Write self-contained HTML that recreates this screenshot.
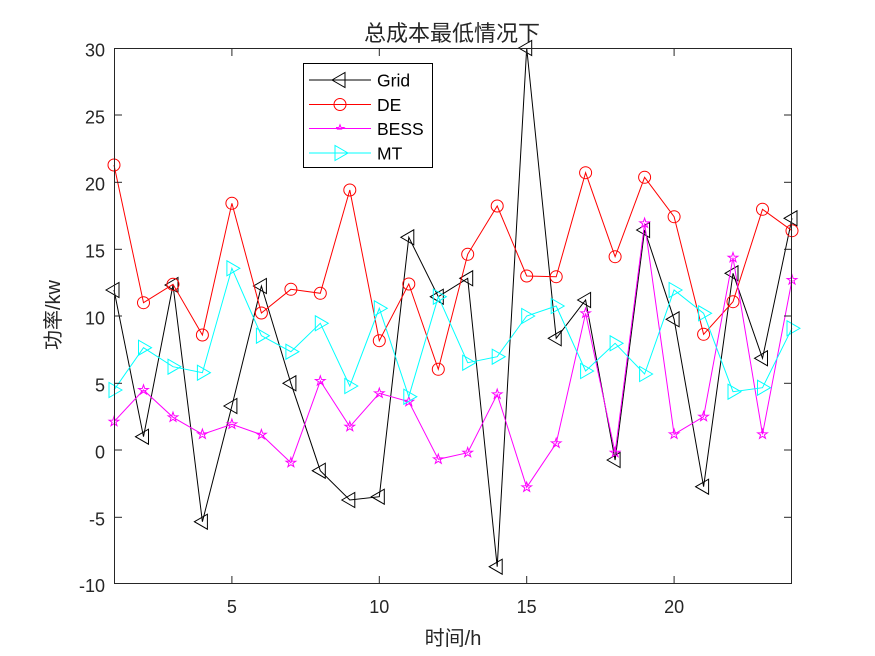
<!DOCTYPE html>
<html>
<head>
<meta charset="utf-8">
<style>
  html, body { margin: 0; padding: 0; background: #ffffff; }
  svg { display: block; }
  .tk { font-family: "Liberation Sans", Arial, sans-serif; font-size: 18px; fill: #262626; }
  .lg { font-family: "Liberation Sans", Arial, sans-serif; font-size: 17.5px; fill: #000; }
  .cj { font-family: "Liberation Sans", "Noto Sans CJK SC", sans-serif; fill: #262626; }
</style>
</head>
<body>
<svg width="875" height="656" viewBox="0 0 875 656" xmlns="http://www.w3.org/2000/svg">
  <defs>
    <polygon id="tl" points="-8,0 5,-7.5 5,7.5" fill="none" stroke="#000" stroke-width="1"/>
    <polygon id="tr" points="8,0 -5,-7.5 -5,7.5" fill="none" stroke="#00ffff" stroke-width="1"/>
    <circle id="ci" cx="0" cy="0" r="6" fill="none" stroke="#ff0000" stroke-width="1"/>
    <polygon id="st" points="0,-5.2 1.2,-1.6 4.9,-1.5 1.9,0.6 3,4 0,2 -3,4 -1.9,0.6 -4.9,-1.5 -1.2,-1.6" fill="none" stroke="#ff00ff" stroke-width="1"/>
  </defs>

  <rect x="0" y="0" width="875" height="656" fill="#ffffff"/>

  <!-- Grid (black) -->
  <polyline fill="none" stroke="#000" stroke-width="1" points="114.0,290 143.5,436.7 173.0,285 202.4,521.7 231.9,406 261.4,286 290.9,383.3 320.3,470.7 349.8,500 379.3,496.7 408.8,237.3 438.3,296.7 467.7,278.3 497.2,566.7 526.7,48 556.2,338.3 585.6,300 615.1,460 644.6,230 674.1,319.3 703.6,486.7 733.0,273.3 762.5,358.3 792.0,218.3"/>
  <g>
    <use href="#tl" x="114.0" y="290"/><use href="#tl" x="143.5" y="436.7"/><use href="#tl" x="173.0" y="285"/><use href="#tl" x="202.4" y="521.7"/><use href="#tl" x="231.9" y="406"/><use href="#tl" x="261.4" y="286"/><use href="#tl" x="290.9" y="383.3"/><use href="#tl" x="320.3" y="470.7"/><use href="#tl" x="349.8" y="500"/><use href="#tl" x="379.3" y="496.7"/><use href="#tl" x="408.8" y="237.3"/><use href="#tl" x="438.3" y="296.7"/><use href="#tl" x="467.7" y="278.3"/><use href="#tl" x="497.2" y="566.7"/><use href="#tl" x="526.7" y="48"/><use href="#tl" x="556.2" y="338.3"/><use href="#tl" x="585.6" y="300"/><use href="#tl" x="615.1" y="460"/><use href="#tl" x="644.6" y="230"/><use href="#tl" x="674.1" y="319.3"/><use href="#tl" x="703.6" y="486.7"/><use href="#tl" x="733.0" y="273.3"/><use href="#tl" x="762.5" y="358.3"/><use href="#tl" x="792.0" y="218.3"/>
  </g>

  <!-- DE (red) -->
  <polyline fill="none" stroke="#ff0000" stroke-width="1" points="114.0,165 143.5,302.7 173.0,284.3 202.4,335 231.9,203.3 261.4,313 290.9,289.3 320.3,293.3 349.8,190 379.3,340.7 408.8,284 438.3,369.3 467.7,254.3 497.2,206 526.7,276 556.2,276.7 585.6,172.7 615.1,256.7 644.6,177.3 674.1,216.7 703.6,334.3 733.0,301.7 762.5,209.3 792.0,230.7"/>
  <g>
    <use href="#ci" x="114.0" y="165"/><use href="#ci" x="143.5" y="302.7"/><use href="#ci" x="173.0" y="284.3"/><use href="#ci" x="202.4" y="335"/><use href="#ci" x="231.9" y="203.3"/><use href="#ci" x="261.4" y="313"/><use href="#ci" x="290.9" y="289.3"/><use href="#ci" x="320.3" y="293.3"/><use href="#ci" x="349.8" y="190"/><use href="#ci" x="379.3" y="340.7"/><use href="#ci" x="408.8" y="284"/><use href="#ci" x="438.3" y="369.3"/><use href="#ci" x="467.7" y="254.3"/><use href="#ci" x="497.2" y="206"/><use href="#ci" x="526.7" y="276"/><use href="#ci" x="556.2" y="276.7"/><use href="#ci" x="585.6" y="172.7"/><use href="#ci" x="615.1" y="256.7"/><use href="#ci" x="644.6" y="177.3"/><use href="#ci" x="674.1" y="216.7"/><use href="#ci" x="703.6" y="334.3"/><use href="#ci" x="733.0" y="301.7"/><use href="#ci" x="762.5" y="209.3"/><use href="#ci" x="792.0" y="230.7"/>
  </g>

  <!-- BESS (magenta) -->
  <polyline fill="none" stroke="#ff00ff" stroke-width="1" points="114.0,421.7 143.5,390 173.0,417.3 202.4,434.3 231.9,424.3 261.4,434.7 290.9,462.7 320.3,381 349.8,426.7 379.3,393.3 408.8,401.7 438.3,459.3 467.7,452.7 497.2,394.3 526.7,487.3 556.2,443.3 585.6,313.3 615.1,452.7 644.6,223.3 674.1,434.3 703.6,416.7 733.0,257.7 762.5,434.3 792.0,280"/>
  <g>
    <use href="#st" x="114.0" y="421.7"/><use href="#st" x="143.5" y="390"/><use href="#st" x="173.0" y="417.3"/><use href="#st" x="202.4" y="434.3"/><use href="#st" x="231.9" y="424.3"/><use href="#st" x="261.4" y="434.7"/><use href="#st" x="290.9" y="462.7"/><use href="#st" x="320.3" y="381"/><use href="#st" x="349.8" y="426.7"/><use href="#st" x="379.3" y="393.3"/><use href="#st" x="408.8" y="401.7"/><use href="#st" x="438.3" y="459.3"/><use href="#st" x="467.7" y="452.7"/><use href="#st" x="497.2" y="394.3"/><use href="#st" x="526.7" y="487.3"/><use href="#st" x="556.2" y="443.3"/><use href="#st" x="585.6" y="313.3"/><use href="#st" x="615.1" y="452.7"/><use href="#st" x="644.6" y="223.3"/><use href="#st" x="674.1" y="434.3"/><use href="#st" x="703.6" y="416.7"/><use href="#st" x="733.0" y="257.7"/><use href="#st" x="762.5" y="434.3"/><use href="#st" x="792.0" y="280"/>
  </g>

  <!-- MT (cyan) -->
  <polyline fill="none" stroke="#00ffff" stroke-width="1" points="114.0,390 143.5,347.7 173.0,366.7 202.4,372.7 231.9,268.3 261.4,335.7 290.9,351.7 320.3,323.3 349.8,386 379.3,308.3 408.8,396.7 438.3,296.7 467.7,362.7 497.2,356.7 526.7,316 556.2,306 585.6,371 615.1,343.3 644.6,374 674.1,290 703.6,313.3 733.0,391.7 762.5,387.7 792.0,328.3"/>
  <g>
    <use href="#tr" x="114.0" y="390"/><use href="#tr" x="143.5" y="347.7"/><use href="#tr" x="173.0" y="366.7"/><use href="#tr" x="202.4" y="372.7"/><use href="#tr" x="231.9" y="268.3"/><use href="#tr" x="261.4" y="335.7"/><use href="#tr" x="290.9" y="351.7"/><use href="#tr" x="320.3" y="323.3"/><use href="#tr" x="349.8" y="386"/><use href="#tr" x="379.3" y="308.3"/><use href="#tr" x="408.8" y="396.7"/><use href="#tr" x="438.3" y="296.7"/><use href="#tr" x="467.7" y="362.7"/><use href="#tr" x="497.2" y="356.7"/><use href="#tr" x="526.7" y="316"/><use href="#tr" x="556.2" y="306"/><use href="#tr" x="585.6" y="371"/><use href="#tr" x="615.1" y="343.3"/><use href="#tr" x="644.6" y="374"/><use href="#tr" x="674.1" y="290"/><use href="#tr" x="703.6" y="313.3"/><use href="#tr" x="733.0" y="391.7"/><use href="#tr" x="762.5" y="387.7"/><use href="#tr" x="792.0" y="328.3"/>
  </g>

  <!-- Axes box -->
  <rect x="114.5" y="48.5" width="677" height="535" fill="none" stroke="#262626" stroke-width="1"/>

  <!-- X ticks (bottom & top) -->
  <g stroke="#262626" stroke-width="1">
    <line x1="231.9" y1="583" x2="231.9" y2="576"/>
    <line x1="379.3" y1="583" x2="379.3" y2="576"/>
    <line x1="526.7" y1="583" x2="526.7" y2="576"/>
    <line x1="674.1" y1="583" x2="674.1" y2="576"/>
    <line x1="231.9" y1="49" x2="231.9" y2="56"/>
    <line x1="379.3" y1="49" x2="379.3" y2="56"/>
    <line x1="526.7" y1="49" x2="526.7" y2="56"/>
    <line x1="674.1" y1="49" x2="674.1" y2="56"/>
  </g>
  <!-- Y ticks (left & right) -->
  <g stroke="#262626" stroke-width="1">
    <line x1="115" y1="115" x2="122" y2="115"/>
    <line x1="115" y1="182.3" x2="122" y2="182.3"/>
    <line x1="115" y1="249.3" x2="122" y2="249.3"/>
    <line x1="115" y1="316" x2="122" y2="316"/>
    <line x1="115" y1="383.3" x2="122" y2="383.3"/>
    <line x1="115" y1="450" x2="122" y2="450"/>
    <line x1="115" y1="517.3" x2="122" y2="517.3"/>
    <line x1="791" y1="115" x2="784" y2="115"/>
    <line x1="791" y1="182.3" x2="784" y2="182.3"/>
    <line x1="791" y1="249.3" x2="784" y2="249.3"/>
    <line x1="791" y1="316" x2="784" y2="316"/>
    <line x1="791" y1="383.3" x2="784" y2="383.3"/>
    <line x1="791" y1="450" x2="784" y2="450"/>
    <line x1="791" y1="517.3" x2="784" y2="517.3"/>
  </g>

  <!-- X tick labels -->
  <g class="tk" text-anchor="middle">
    <text x="231.9" y="613">5</text>
    <text x="379.3" y="613">10</text>
    <text x="526.7" y="613">15</text>
    <text x="674.1" y="613">20</text>
  </g>
  <!-- Y tick labels -->
  <g class="tk" text-anchor="end">
    <text x="105" y="56.5">30</text>
    <text x="105" y="123.5">25</text>
    <text x="105" y="190.5">20</text>
    <text x="105" y="257.5">15</text>
    <text x="105" y="324.5">10</text>
    <text x="105" y="391.5">5</text>
    <text x="105" y="458.5">0</text>
    <text x="105" y="525.5">-5</text>
    <text x="105" y="592">-10</text>
  </g>

  <!-- Title -->
  <text class="cj" x="452" y="41" text-anchor="middle" font-size="22">总成本最低情况下</text>
  <!-- X label -->
  <text class="cj" x="453" y="645" text-anchor="middle" font-size="20">时间/h</text>
  <!-- Y label -->
  <text class="cj" x="0" y="0" text-anchor="middle" font-size="20" transform="translate(60,315) rotate(-90)">功率/kw</text>

  <!-- Legend -->
  <rect x="303.5" y="63.5" width="129" height="104" fill="#ffffff" stroke="#000" stroke-width="1"/>
  <line x1="309" y1="80" x2="371" y2="80" stroke="#000" stroke-width="1"/>
  <use href="#tl" x="340" y="80"/>
  <text class="lg" x="377" y="86.5">Grid</text>
  <line x1="309" y1="104.5" x2="371" y2="104.5" stroke="#ff0000" stroke-width="1"/>
  <use href="#ci" x="340" y="104.5"/>
  <text class="lg" x="377" y="111">DE</text>
  <line x1="309" y1="128.5" x2="371" y2="128.5" stroke="#ff00ff" stroke-width="1"/>
  <polygon points="340,124.8 341,127.4 344,127.5 341.6,129.1 337.5,129.1 338.4,127.4 336,127.5 339,127.4" fill="none" stroke="#ff00ff" stroke-width="1"/>
  <text class="lg" x="377" y="135">BESS</text>
  <line x1="309" y1="153" x2="371" y2="153" stroke="#00ffff" stroke-width="1"/>
  <use href="#tr" x="340" y="153"/>
  <text class="lg" x="377" y="159.5">MT</text>
</svg>
</body>
</html>
